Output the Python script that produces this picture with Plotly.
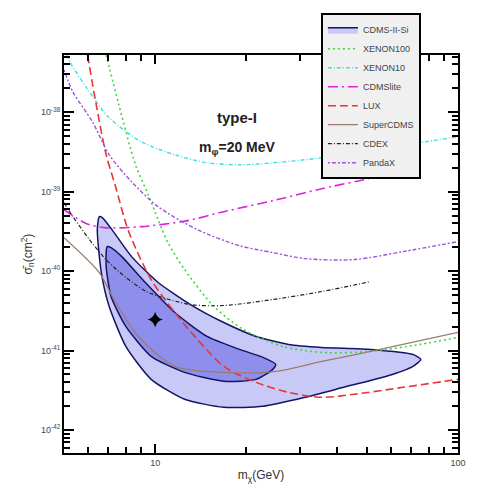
import numpy as np
import plotly.graph_objects as go

# ---- data: masses in GeV, cross sections as log10(sigma / cm^2) ----
outer_m = [6.54, 6.44, 6.64, 7.05, 8.00, 9.70, 12.51, 16.85, 22.70, 31.27, 43.09, 58.03, 70.98, 75.35,
           70.98, 51.52, 35.49, 27.55, 21.54, 16.85, 13.08, 10.23, 8.36, 7.20, 6.69, 6.54]
outer_ls = [-39.315, -39.478, -40.019, -40.446, -40.948, -41.363, -41.614, -41.715, -41.702, -41.589,
            -41.451, -41.325, -41.200, -41.112, -41.049, -40.986, -40.961, -40.923, -40.823, -40.647,
            -40.421, -40.144, -39.818, -39.478, -39.328, -39.315]

inner_m = [6.94, 6.89, 7.15, 8.00, 9.70, 12.51, 16.85, 21.54, 24.45, 25.00, 22.70, 18.98, 14.84,
           11.61, 9.28, 7.76, 7.15, 6.94]
inner_ls = [-39.692, -39.943, -40.320, -40.697, -41.074, -41.275, -41.388, -41.363, -41.237, -41.174,
            -41.086, -40.986, -40.823, -40.521, -40.144, -39.818, -39.705, -39.692]

best_m = [10.0]
best_ls = [-40.609]

xenon100_m = [6.89, 7.59, 8.61, 9.49, 10.23, 11.02, 12.51, 15.64, 19.56, 26.34, 35.49, 51.52, 74.79, 100]
xenon100_ls = [-37.28, -37.908, -38.662, -39.039, -39.353, -39.642, -39.981, -40.446, -40.735, -40.948,
               -41.024, -41.011, -40.923, -40.835]

xenon10_m = [5.11, 5.23, 5.94, 7.05, 9.01, 11.61, 14.84, 18.98, 24.45, 35.49, 58.03, 100]
xenon10_ls = [-37.28, -37.368, -37.695, -38.071, -38.373, -38.536, -38.637, -38.662, -38.637, -38.574,
              -38.448, -38.310]

cdmslite_m = [5.00, 5.94, 6.79, 9.01, 12.79, 16.85, 24.45, 35.49, 50.76]
cdmslite_ls = [-39.227, -39.403, -39.453, -39.441, -39.365, -39.252, -39.114, -38.963, -38.838]

lux_m = [5.98, 6.39, 6.89, 7.37, 8.18, 9.70, 11.61, 13.78, 16.85, 21.54, 27.55, 35.49, 45.39, 65.9, 100]
lux_ls = [-37.28, -37.908, -38.536, -38.913, -39.504, -40.107, -40.521, -40.860, -41.200, -41.401,
          -41.526, -41.589, -41.551, -41.463, -41.363]

supercdms_m = [5.00, 6.54, 7.31, 8.81, 11.61, 16.85, 25.0, 35.49, 51.52, 100]
supercdms_ls = [-39.579, -40.019, -40.358, -40.823, -41.200, -41.275, -41.262, -41.137, -41.011, -40.772]

cdex_m = [5.00, 5.35, 6.07, 6.79, 7.59, 9.35, 13.08, 16.85, 24.45, 35.49, 51.52]
cdex_ls = [-39.139, -39.315, -39.604, -39.830, -40.006, -40.257, -40.421, -40.433, -40.358, -40.257, -40.132]

pandax_m = [5.00, 5.35, 6.21, 7.05, 8.36, 10.23, 13.78, 18.98, 24.45, 31.27, 45.39, 65.9, 100]
pandax_ls = [-37.468, -37.745, -38.122, -38.536, -38.876, -39.190, -39.478, -39.680, -39.767, -39.843,
             -39.855, -39.755, -39.629]

y_tick_exps = [-38, -39, -40, -41, -42]
x_tick_vals = [10, 100]
x_tick_text = ["10", "100"]

FONT = "Liberation Sans, Arial, sans-serif"


def s(ls):
    return [10.0 ** v for v in ls]


fig = go.Figure()

fig.add_trace(go.Scatter(x=outer_m, y=s(outer_ls), mode="lines", fill="toself",
                         fillcolor="#c9c9f7", line=dict(color="#141466", width=1.5, shape="spline", smoothing=0.6),
                         name="CDMS-II-Si"))
fig.add_trace(go.Scatter(x=inner_m, y=s(inner_ls), mode="lines", fill="toself",
                         fillcolor="#8e8eec", line=dict(color="#141466", width=1.5, shape="spline", smoothing=0.6),
                         name="CDMS-II-Si 1", showlegend=False))

lines = [
    ("XENON100", xenon100_m, xenon100_ls, "#3fd43f", "2px,3px", 1.6),
    ("XENON10", xenon10_m, xenon10_ls, "#3fe0e0", "4px,2px,1px,2px", 1.4),
    ("CDMSlite", cdmslite_m, cdmslite_ls, "#dd22dd", "10px,4px,2px,4px", 1.6),
    ("LUX", lux_m, lux_ls, "#e83535", "8px,4px", 1.6),
    ("SuperCDMS", supercdms_m, supercdms_ls, "#9c7b6e", None, 1.3),
    ("CDEX", cdex_m, cdex_ls, "#222222", "4px,2px,1px,2px", 1.2),
    ("PandaX", pandax_m, pandax_ls, "#9955dd", "2px,2px,4px,2px", 1.4),
]
for name, m, ls, col, dash, w in lines:
    ln = dict(color=col, width=w, shape="spline", smoothing=0.8)
    if dash:
        ln["dash"] = dash
    fig.add_trace(go.Scatter(x=m, y=s(ls), mode="lines", line=ln, name=name))

fig.add_trace(go.Scatter(x=best_m, y=s(best_ls), mode="markers", showlegend=False,
                         marker=dict(symbol="star-diamond", size=11, color="#000000")))

fig.add_annotation(x=0.44, y=0.87, xref="paper", yref="paper", text="<b>type-I</b>", showarrow=False,
                   font=dict(family=FONT, size=15, color="#222"))
fig.add_annotation(x=0.44, y=0.795, xref="paper", yref="paper", text="<b>m<sub>φ</sub>=20 MeV</b>",
                   showarrow=False, font=dict(family=FONT, size=14, color="#222"))

axis_common = dict(showline=True, linecolor="black", linewidth=2, mirror="ticks", ticks="inside",
                   tickcolor="black", tickwidth=1.5, showgrid=False, zeroline=False,
                   tickfont=dict(family=FONT, size=9, color="#444"))

fig.update_xaxes(type="log", range=[np.log10(5), 2], tickvals=x_tick_vals, ticktext=x_tick_text,
                 ticklen=9, minor=dict(ticks="inside", ticklen=6, tickcolor="black", tickwidth=1.5,
                                       tickvals=[6, 7, 8, 9, 20, 30, 40, 50, 60, 70, 80, 90]),
                 title=dict(text="m<sub>χ</sub>(GeV)", font=dict(family=FONT, size=12, color="#333"),
                            standoff=4),
                 **axis_common)
fig.update_yaxes(type="log", range=[-42.29, -37.28], tickvals=[10.0 ** e for e in y_tick_exps],
                 ticktext=["10<sup>%d</sup>" % e for e in y_tick_exps], ticklen=10,
                 minor=dict(ticks="inside", ticklen=6, tickcolor="black", tickwidth=1.5,
                            tickvals=[k * 10.0 ** e for e in range(-43, -37) for k in range(2, 10)]),
                 title=dict(text="σ̄<sub>n</sub>(cm<sup>2</sup>)", font=dict(family=FONT, size=12, color="#333"),
                            standoff=6),
                 **axis_common)

fig.update_layout(width=477, height=494, margin=dict(l=64, r=11, t=55, b=41),
                  paper_bgcolor="white", plot_bgcolor="white",
                  font=dict(family=FONT, size=10, color="#333"),
                  legend=dict(x=0.652, y=1.105, xanchor="left", yanchor="top",
                              bgcolor="#f0f0f0", bordercolor="black", borderwidth=2,
                              font=dict(family=FONT, size=9, color="#444"), tracegroupgap=0,
                              itemwidth=30, entrywidth=108))

fig.write_html("out.html")
